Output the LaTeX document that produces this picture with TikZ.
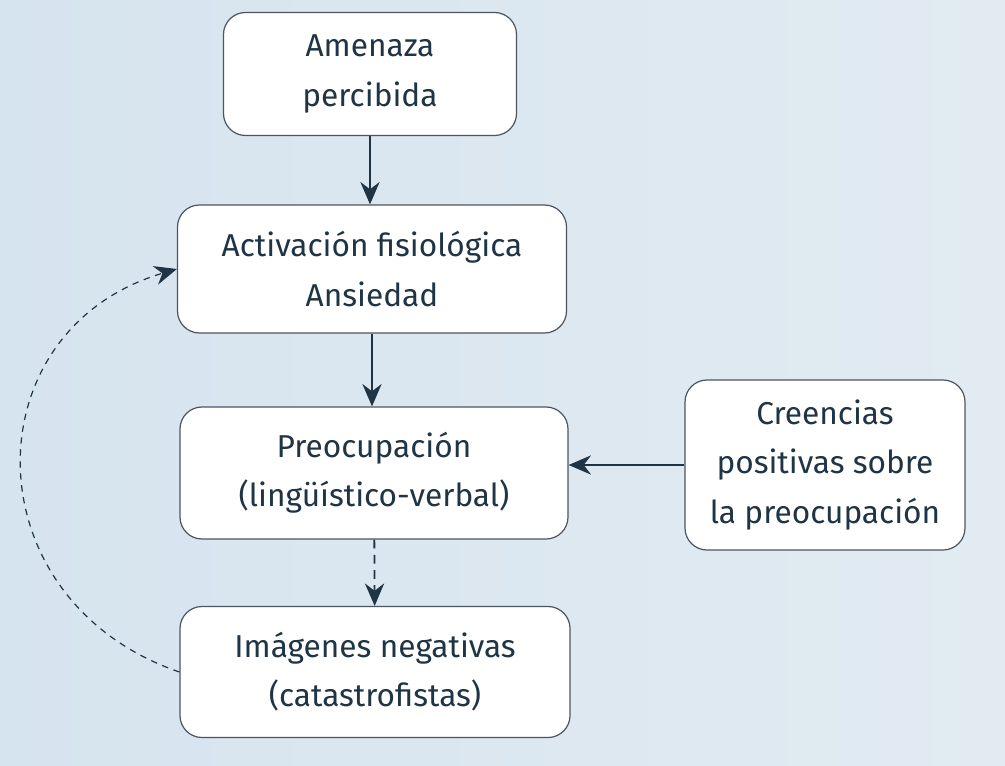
\documentclass[tikz,border=0pt]{standalone}
\usepackage{fontspec}
\setmainfont{Fira Sans}
\usetikzlibrary{arrows.meta}
\definecolor{paper}{HTML}{E2EBF2}
\definecolor{paperL}{HTML}{D6E4EF}
\definecolor{ink}{HTML}{1F3445}
\definecolor{rim}{HTML}{4A5560}
\tikzset{every path/.style={ink, line width=0.45mm}, every node/.style={align=center, text=ink, font=\fontsize{22.5}{35}\selectfont},
  cajita/.style={draw=rim, line width=0.3mm, fill=white, rounded corners=5.5mm, inner sep=0pt},
  >={Stealth[length=5.6mm,width=4.8mm]}}

\begin{document}
\begin{tikzpicture}[x=0.25mm,y=-0.25mm]
     \shade[left color=paperL,right color=paper,draw=none] (0,0) rectangle (1005,766);
     \useasboundingbox (0,0) rectangle (1005,766);
     \node[cajita,minimum width=73.25mm,minimum height=30.75mm] (amenaza) at (370,74) {Amenaza\\percibida};
     \node[cajita,minimum width=97.25mm,minimum height=32mm] (activ) at (372,269) {Activación fisiológica\\Ansiedad};
     \node[cajita,minimum width=97mm,minimum height=33mm] (preoc) at (374,473) {Preocupación\\(lingüístico-verbal)};
     \node[cajita,minimum width=97.5mm,minimum height=32.75mm] (imag) at (375,672) {Imágenes negativas\\(catastrofistas)};
     \node[cajita,minimum width=70mm,minimum height=42.5mm] (creen) at (825,465) {Creencias\\positivas sobre\\la preocupación};
     \draw[->] (amenaza) -- (amenaza |- activ.north);
     \draw[->] (activ) -- (activ |- preoc.north);
     \draw[->,dash pattern=on 2.2mm off 1.6mm] (preoc) -- (imag);
     \draw[->] (creen.west) -- (preoc.east |- creen.west);
     \draw[->,line width=0.3mm,dash pattern=on 1.6mm off 1.4mm] (imag.west) .. controls (-30,600) and (-30,330) .. (activ.west);
\end{tikzpicture}
\end{document}
